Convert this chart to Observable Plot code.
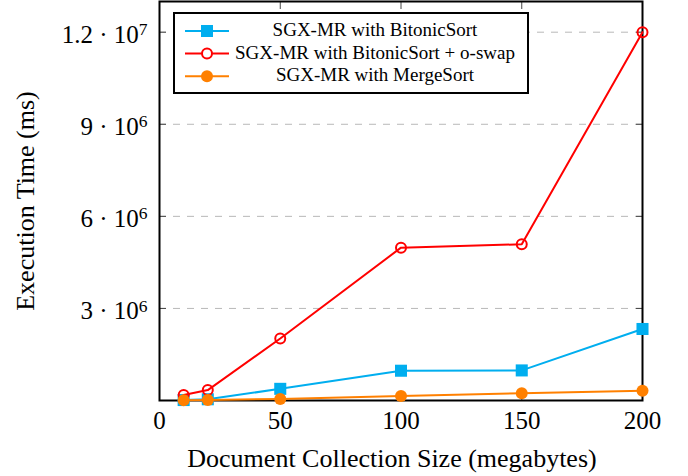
<!DOCTYPE html>
<html><head><meta charset="utf-8">
<script src="https://cdn.jsdelivr.net/npm/d3@7"></script>
<script src="https://cdn.jsdelivr.net/npm/@observablehq/plot@0.6"></script>
<style>html,body{margin:0;padding:0;background:#fff;} svg{display:block}</style>
</head><body><div id="chart"></div>
<script>
const sizes = [10, 20, 50, 100, 150, 200];
const bitonicSort = [15000, 40000, 380000, 970000, 980000, 2330000];
const bitonicOswap = [180000, 340000, 2020000, 4980000, 5090000, 12000000];
const mergeSort = [10000, 20000, 50000, 150000, 240000, 320000];
const seriesNames = ["SGX-MR with BitonicSort", "SGX-MR with BitonicSort + o-swap", "SGX-MR with MergeSort"];
const seriesColors = ["#00aeef", "#ff0000", "#ff8000"];
const xTicks = [0, 50, 100, 150, 200];
const yTicks = [3e6, 6e6, 9e6, 1.2e7];
const yTickMantissa = ["3", "6", "9", "1.2"];
const yTickExponent = ["6", "6", "6", "7"];
const xLabel = "Document Collection Size (megabytes)";
const yLabel = "Execution Time (ms)";

const FONT = "'Liberation Serif', 'Times New Roman', serif";
const markerStyles = [
  {symbol: "square", r: 6.8, filled: true},
  {symbol: "circle", r: 5, filled: false},
  {symbol: "circle", r: 6, filled: true}
];
const seriesValues = [bitonicSort, bitonicOswap, mergeSort];

const seriesMarks = seriesValues.flatMap((vals, s) => {
  const rows = sizes.map((x, i) => ({x, y: vals[i]}));
  const ms = markerStyles[s];
  return [
    Plot.line(rows, {x: "x", y: "y", stroke: seriesColors[s], strokeWidth: 2}),
    Plot.dot(rows, {x: "x", y: "y", symbol: ms.symbol, r: ms.r,
      fill: ms.filled ? seriesColors[s] : "none",
      stroke: ms.filled ? "none" : seriesColors[s], strokeWidth: 2})
  ];
});

const tickStroke = "#444";
const chart = Plot.plot({
  width: 688, height: 476,
  marginLeft: 159, marginRight: 46, marginTop: 1, marginBottom: 76,
  style: {fontFamily: FONT, fontSize: "25px", background: "white", color: "black"},
  x: {domain: [0, 200]},
  y: {domain: [0, 1.3e7]},
  marks: [
    Plot.gridY(yTicks, {stroke: "#b8b8b8", strokeOpacity: 1, strokeWidth: 1, strokeDasharray: "7,7"}),
    Plot.axisY(yTicks, {anchor: "left", tickSize: 7, dx: 7, stroke: tickStroke, fill: "none", label: null}),
    Plot.axisY(yTicks, {anchor: "right", tickSize: 7, dx: -7, stroke: tickStroke, fill: "none", label: null}),
    Plot.axisX(xTicks, {anchor: "bottom", tickSize: 7, dy: -7, stroke: tickStroke, fill: "none", label: null}),
    Plot.axisX(xTicks, {anchor: "top", tickSize: 7, dy: 7, stroke: tickStroke, fill: "none", label: null}),
    Plot.axisY(yTicks, {anchor: "left", tickSize: 0, tickPadding: 12, dy: 3, fontSize: 25, label: null, fill: "black",
      tickFormat: d => { const i = yTicks.indexOf(d); return yTickMantissa[i] + " · 10^" + yTickExponent[i]; }}),
    Plot.axisX(xTicks, {anchor: "bottom", tickSize: 0, tickPadding: 11, fontSize: 25, label: null, fill: "black", tickFormat: d => String(d)}),
    Plot.frame({stroke: "black", strokeWidth: 2}),
    ...seriesMarks
  ]
});
document.getElementById("chart").appendChild(chart);

const svg = d3.select(chart);
// superscript exponents on y tick labels
svg.selectAll("g[aria-label='y-axis tick label'] text").each(function() {
  const t = d3.select(this);
  const parts = t.text().split("^");
  if (parts.length !== 2) return;
  t.text(null);
  t.append("tspan").text(parts[0]);
  t.append("tspan").attr("dy", "-0.45em").attr("font-size", "0.7em").text(parts[1]);
});

// axis titles
svg.append("text").attr("x", 392).attr("y", 467).attr("text-anchor", "middle")
  .attr("font-family", FONT).attr("font-size", 26).attr("fill", "black").text(xLabel);
svg.append("text").attr("transform", "translate(34,201) rotate(-90)").attr("text-anchor", "middle")
  .attr("font-family", FONT).attr("font-size", 26).attr("fill", "black").text(yLabel);

// legend
const lg = svg.append("g").attr("font-family", FONT).attr("font-size", 19);
lg.append("rect").attr("x", 174).attr("y", 13).attr("width", 354).attr("height", 80)
  .attr("fill", "white").attr("stroke", "black").attr("stroke-width", 2);
seriesNames.forEach((name, i) => {
  const cy = 31 + i * 22.6;
  const c = seriesColors[i];
  lg.append("line").attr("x1", 185).attr("x2", 229).attr("y1", cy).attr("y2", cy)
    .attr("stroke", c).attr("stroke-width", 2);
  const ms = markerStyles[i];
  if (ms.symbol === "square") {
    lg.append("rect").attr("x", 207 - 6).attr("y", cy - 6).attr("width", 12).attr("height", 12).attr("fill", c);
  } else {
    lg.append("circle").attr("cx", 207).attr("cy", cy).attr("r", ms.r)
      .attr("fill", ms.filled ? c : "white").attr("stroke", ms.filled ? "none" : c).attr("stroke-width", 2);
  }
  lg.append("text").attr("x", 375).attr("y", cy + 5).attr("text-anchor", "middle").text(name);
});
</script>
</body></html>
